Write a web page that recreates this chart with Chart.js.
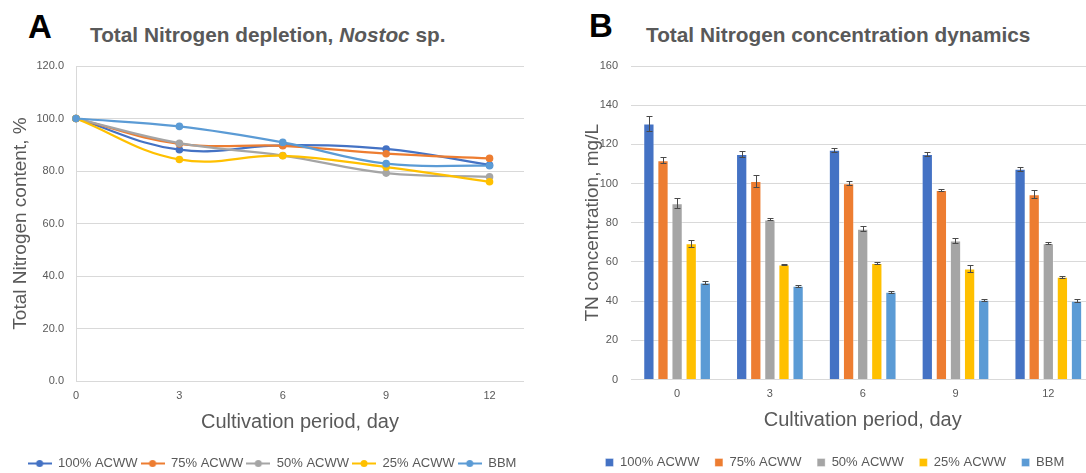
<!DOCTYPE html>
<html>
<head>
<meta charset="utf-8">
<script src="https://cdn.jsdelivr.net/npm/chart.js@4/dist/chart.umd.min.js"></script>
<style>
  html, body { margin: 0; padding: 0; background: #fff; overflow: hidden; width: 1086px; height: 473px; }
  body { position: relative; font-family: 'Liberation Sans', Arial, sans-serif; }
  .lbl { position: absolute; font-weight: bold; color: #000; font-size: 33px; line-height: 1; }
  .ttl { position: absolute; font-weight: bold; color: #595959; font-size: 20.8px; line-height: 1; white-space: nowrap; }
  canvas { position: absolute; }
</style>
</head>
<body>
<div class="lbl" style="left:28px; top:10px;">A</div>
<div class="ttl" style="left:90px; top:25px;">Total Nitrogen depletion, <i>Nostoc</i> sp.</div>
<div class="lbl" style="left:589px; top:9px;">B</div>
<div class="ttl" style="left:646px; top:25px;">Total Nitrogen concentration dynamics</div>
<canvas id="chartA" width="540" height="480" style="left:0; top:0;"></canvas>
<canvas id="chartB" width="530" height="479" style="left:575px; top:0;"></canvas>
<script>
// ---------- data ----------
const seriesNames = ['100% ACWW', '75% ACWW', '50% ACWW', '25% ACWW', 'BBM'];
const seriesColors = ['#4472C4', '#ED7D31', '#A5A5A5', '#FFC000', '#5B9BD5'];
const days = [0, 3, 6, 9, 12];
const dayLabels = ['0', '3', '6', '9', '12'];

// Panel A: total nitrogen content, %
const pct100 = [100, 88.1, 89.8, 88.4, 82.3];
const pct75  = [100, 90.3, 89.6, 86.6, 84.8];
const pct50  = [100, 90.6, 85.9, 79.2, 77.8];
const pct25  = [100, 84.4, 85.8, 81.5, 75.9];
const pctBBM = [100, 97.0, 90.9, 82.8, 82.0];
const pctTicks = [0, 20, 40, 60, 80, 100, 120];

// Panel B: TN concentration, mg/L
const tn100 = [130.6, 115.1, 117.2, 115.1, 107.5];
const tn75  = [111.9, 101.3, 100.1, 96.7, 94.5];
const tn50  = [89.9, 81.7, 77.0, 71.0, 69.5];
const tn25  = [69.5, 58.7, 59.4, 56.7, 52.4];
const tnBBM = [49.5, 47.8, 44.8, 40.7, 40.2];
const err100 = [3.9, 1.3, 0.9, 1.2, 0.9];
const err75  = [1.5, 3.0, 1.0, 0.6, 2.0];
const err50  = [2.5, 0.5, 1.3, 1.3, 0.6];
const err25  = [1.8, 0.3, 0.5, 1.8, 0.6];
const errBBM = [1.0, 0.5, 0.4, 0.4, 0.9];
const tnTicks = [0, 20, 40, 60, 80, 100, 120, 140, 160];

// ---------- shared styles ----------
const FONT = "'Liberation Sans', Arial, sans-serif";
const TXT = '#595959';
const GRID = '#D9D9D9';
Chart.defaults.font.family = FONT;
Chart.defaults.color = TXT;

function markerImage(color) {
  const c = document.createElement('canvas');
  c.width = 24; c.height = 9;
  const g = c.getContext('2d');
  g.strokeStyle = color; g.lineWidth = 2;
  g.beginPath(); g.moveTo(0, 4.5); g.lineTo(24, 4.5); g.stroke();
  g.fillStyle = color;
  g.beginPath(); g.arc(12, 4.5, 3.5, 0, Math.PI * 2); g.fill();
  return c;
}

// ---------- Chart A ----------
const pctSeries = [pct100, pct75, pct50, pct25, pctBBM];
new Chart(document.getElementById('chartA'), {
  type: 'line',
  data: {
    datasets: pctSeries.map((vals, i) => ({
      label: seriesNames[i],
      data: days.map((d, k) => ({ x: d, y: vals[k] })),
      borderColor: seriesColors[i],
      backgroundColor: seriesColors[i],
      borderWidth: 2.25,
      pointRadius: 3.8,
      pointBorderWidth: 0,
      tension: 0.4,
      clip: false,
      order: seriesNames.length - i
    }))
  },
  options: {
    responsive: false,
    animation: false,
    events: [],
    layout: { padding: { left: 20, right: 16, top: 66, bottom: 0 } },
    plugins: {
      tooltip: { enabled: false },
      legend: {
        position: 'bottom',
        labels: {
          usePointStyle: true,
          pointStyleWidth: 24,
          padding: 3,
          color: TXT,
          font: { size: 13, family: FONT },
          generateLabels(chart) {
            return chart.data.datasets.map((ds, i) => ({
              text: ds.label,
              pointStyle: markerImage(ds.borderColor),
              fillStyle: ds.borderColor,
              strokeStyle: ds.borderColor,
              lineWidth: 0,
              fontColor: TXT,
              hidden: false,
              datasetIndex: i
            }));
          }
        }
      }
    },
    scales: {
      x: {
        type: 'linear',
        min: 0,
        max: 13,
        afterBuildTicks(s) { s.ticks = days.map(v => ({ value: v })); },
        afterFit(s) { s.height = 73; },
        grid: { display: false, drawTicks: false },
        border: { display: false },
        ticks: { padding: 8, color: TXT, font: { size: 11 } },
        title: { display: true, text: 'Cultivation period, day', color: TXT, font: { size: 20 }, padding: { top: 0, bottom: 20 } }
      },
      y: {
        min: 0,
        max: 120,
        afterBuildTicks(s) { s.ticks = pctTicks.map(v => ({ value: v })); },
        afterFit(s) { s.width = 56; },
        grid: { color: GRID, lineWidth: 1, drawTicks: false },
        border: { display: true, color: GRID, width: 1 },
        ticks: { padding: 12, color: TXT, font: { size: 11 }, callback: v => Number(v).toFixed(1) },
        title: { display: true, text: 'Total Nitrogen content, %', color: TXT, font: { size: 19 }, padding: { top: -11, bottom: 0 } }
      }
    }
  }
});

// ---------- Chart B ----------
const tnSeries = [tn100, tn75, tn50, tn25, tnBBM];
const errSeries = [err100, err75, err50, err25, errBBM];

const errorBars = {
  id: 'errorBars',
  afterDatasetsDraw(chart) {
    const ctx = chart.ctx;
    const ys = chart.scales.y;
    chart.data.datasets.forEach((ds, di) => {
      const meta = chart.getDatasetMeta(di);
      meta.data.forEach((bar, i) => {
        const v = ds.data[i], e = ds.errors[i];
        const x = Math.round(bar.x) + 0.5;
        const yT = Math.round(ys.getPixelForValue(v + e)) + 0.5;
        const yB = Math.round(ys.getPixelForValue(v - e)) + 0.5;
        ctx.save();
        ctx.strokeStyle = '#4a4a4a';
        ctx.lineWidth = 1;
        ctx.beginPath();
        ctx.moveTo(x, yT); ctx.lineTo(x, yB);
        ctx.moveTo(x - 3, yT); ctx.lineTo(x + 3, yT);
        ctx.moveTo(x - 3, yB); ctx.lineTo(x + 3, yB);
        ctx.stroke();
        ctx.restore();
      });
    });
  }
};

new Chart(document.getElementById('chartB'), {
  type: 'bar',
  data: {
    labels: dayLabels,
    datasets: tnSeries.map((vals, i) => ({
      label: seriesNames[i],
      data: vals,
      errors: errSeries[i],
      backgroundColor: seriesColors[i],
      borderColor: 'rgba(255,255,255,0.35)',
      borderWidth: 1,
      categoryPercentage: 0.76,
      barPercentage: 0.8
    }))
  },
  plugins: [errorBars],
  options: {
    responsive: false,
    animation: false,
    events: [],
    layout: { padding: { left: 0, right: 10.3, top: 66, bottom: 0 } },
    plugins: {
      tooltip: { enabled: false },
      legend: {
        position: 'bottom',
        labels: {
          boxWidth: 8,
          boxHeight: 8,
          padding: 15.5,
          color: TXT,
          font: { size: 13, family: FONT }
        }
      }
    },
    scales: {
      x: {
        afterFit(s) { s.height = 61; },
        grid: { display: false, drawTicks: false },
        border: { display: false },
        ticks: { padding: 8, color: TXT, font: { size: 11 } },
        title: { display: true, text: 'Cultivation period, day', color: TXT, font: { size: 20 }, padding: { top: 0, bottom: 8.5 } }
      },
      y: {
        min: 0,
        max: 160,
        afterBuildTicks(s) { s.ticks = tnTicks.map(v => ({ value: v })); },
        afterFit(s) { s.width = 55.7; },
        grid: { color: GRID, lineWidth: 1, drawTicks: false },
        border: { display: false },
        ticks: { padding: 12.7, color: TXT, font: { size: 11 } },
        title: { display: true, text: 'TN concentration, mg/L', color: TXT, font: { size: 19 }, padding: { top: 6.6, bottom: 0 } }
      }
    }
  }
});
</script>
</body>
</html>
